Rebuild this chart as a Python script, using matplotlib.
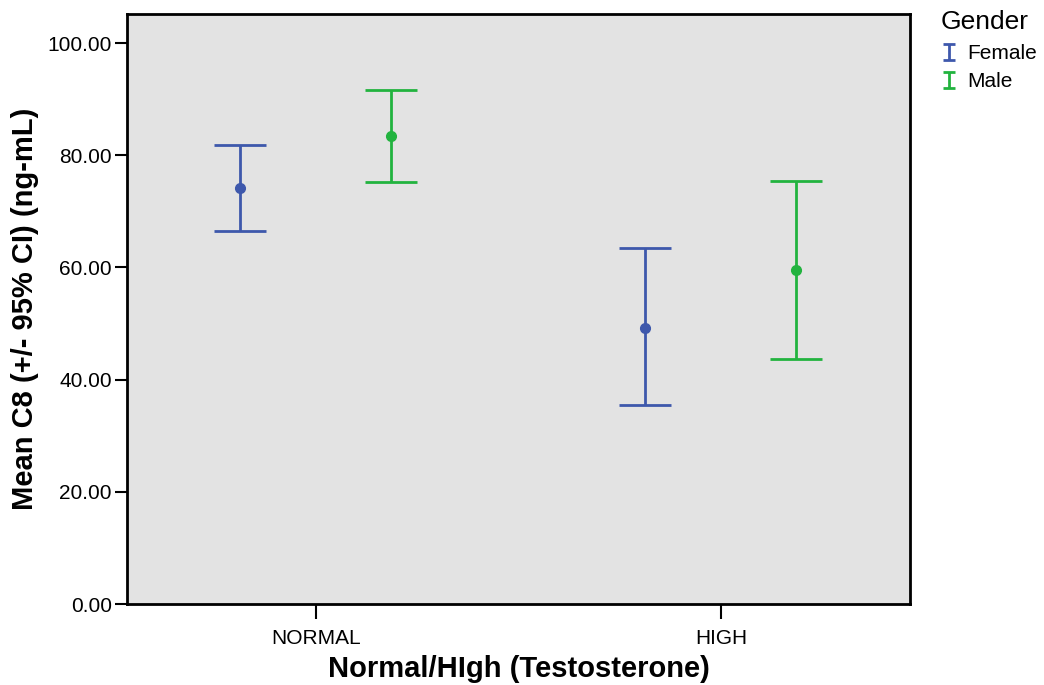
import numpy as np
import matplotlib
matplotlib.use('Agg')
from matplotlib import pyplot as plt
from matplotlib.path import Path
from matplotlib.lines import Line2D

plt.rcParams['font.family'] = ['Liberation Sans', 'DejaVu Sans']

categories = ['NORMAL', 'HIGH']
genders = ['Female', 'Male']
colors = ['#3e58ac', '#22b33f']
# mean and 95% CI bounds per gender, per category
means = {'Female': [74.2, 49.3], 'Male': [83.5, 59.6]}
lower = {'Female': [66.5, 35.4], 'Male': [75.3, 43.7]}
upper = {'Female': [81.9, 63.4], 'Male': [91.7, 75.5]}
yticks = [0, 20, 40, 60, 80, 100]

fig = plt.figure(figsize=(10.44, 6.85), dpi=100)
ax = fig.add_axes([0.1217, 0.1182, 0.7499, 0.8614])
ax.set_facecolor('#e3e3e3')

x = np.arange(len(categories))
offsets = [-0.187, 0.185]
for g, c, off in zip(genders, colors, offsets):
    m = np.array(means[g])
    err = [m - np.array(lower[g]), np.array(upper[g]) - m]
    ax.errorbar(x + off, m, yerr=err, fmt='o', color=c, ms=7, elinewidth=2,
                capsize=19, capthick=2)

ax.set_xlim(-0.467, 1.467)
ax.set_ylim(0, 105.2)
ax.set_xticks(x)
ax.set_xticklabels(categories, fontsize=15)
ax.set_yticks(yticks)
ax.set_yticklabels(['%.2f' % v for v in yticks], fontsize=15)
ax.tick_params(axis='y', length=9, width=1.5, direction='out', pad=2)
ax.tick_params(axis='x', length=11, width=1.5, direction='out', pad=7)
for s in ax.spines.values():
    s.set_linewidth(2)
ax.set_xlabel('Normal/HIgh (Testosterone)', fontsize=21, fontweight='bold', labelpad=5)
ax.set_ylabel('Mean C8 (+/- 95% CI) (ng-mL)', fontsize=21, fontweight='bold', labelpad=6)

ibeam = Path([(-0.7, -1), (0.7, -1), (0, -1), (0, 1), (-0.7, 1), (0.7, 1)],
             [Path.MOVETO, Path.LINETO, Path.MOVETO, Path.LINETO, Path.MOVETO, Path.LINETO])
handles = [Line2D([], [], ls='none', marker=ibeam, color=c, mec=c, ms=12, mew=2)
           for c in colors]
leg = fig.legend(handles, genders, loc='upper left', bbox_to_anchor=(0.887, 1.006),
                 frameon=False, title='Gender', fontsize=15, title_fontsize=19,
                 handlelength=0.8, handletextpad=0.5, labelspacing=0.45,
                 alignment='left', borderpad=0.2)

fig.savefig('out.png', dpi=100)
